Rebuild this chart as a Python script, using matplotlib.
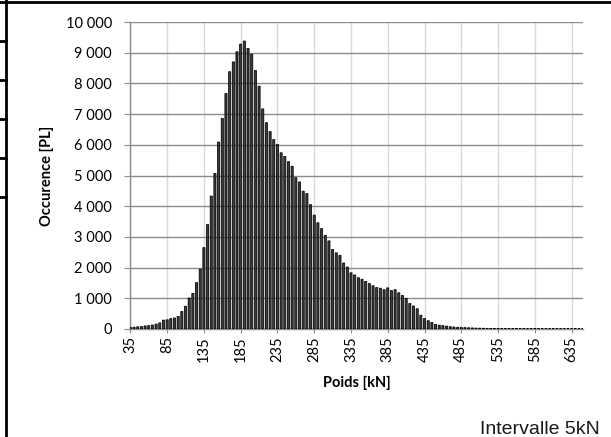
import matplotlib
matplotlib.use("Agg")
import matplotlib.pyplot as plt
from matplotlib.lines import Line2D
from matplotlib.ticker import FuncFormatter, MultipleLocator
import numpy as np

# classes de poids (kN), pas de 5 kN
poids = np.arange(35, 655, 5)

# occurences (une valeur par classe)
occurence = [
    50, 60, 70, 80, 100, 110, 130, 160, 200, 290,
    300, 340, 360, 410, 570, 740, 1010, 1160, 1510, 1950,
    2650, 3400, 4330, 5070, 6090, 6860, 7670, 8380, 8700, 9030,
    9280, 9380, 9140, 8950, 8420, 7910, 7170, 6720, 6430, 6170,
    6010, 5740, 5620, 5450, 5300, 4930, 4790, 4490, 4410, 4050,
    3710, 3460, 3270, 3050, 2870, 2590, 2480, 2400, 2150, 2020,
    1830, 1760, 1670, 1620, 1550, 1480, 1410, 1350, 1330, 1280,
    1340, 1250, 1280, 1180, 1090, 1000, 830, 750, 660, 450,
    340, 270, 215, 150, 125, 110, 95, 75, 65, 55,
    50, 45, 40, 35, 30, 28, 25, 22, 20, 18,
    16, 15, 14, 13, 12, 12, 11, 11, 10, 10,
    10, 10, 9, 9, 9, 9, 8, 8, 8, 8,
    8, 8, 8, 8,
]

xticks = list(range(35, 640, 50))

GRID_DARK = "#8c8c8c"
GRID_LIGHT = "#d9d9d9"
TXT = "#000000"

fig = plt.figure(figsize=(6.11, 4.37), dpi=100)
fig.set_facecolor("white")
ax = fig.add_axes([130 / 611, 1 - 329 / 437, 453 / 611, 307 / 437])

ax.bar(poids, occurence, width=2.9, color="#3c3c3c", edgecolor="black",
       linewidth=0.55, zorder=3, snap=False)

ax.set_xlim(34.5, 650.5)
ax.set_ylim(0, 10000)
ax.set_xticks(xticks)
ax.yaxis.set_major_locator(MultipleLocator(1000))
ax.yaxis.set_major_formatter(FuncFormatter(lambda v, p: f"{v:,.0f}".replace(",", " ")))

ax.set_axisbelow(True)
ax.grid(axis="y", color=GRID_DARK, linewidth=1.0)
ax.grid(axis="x", color=GRID_LIGHT, linewidth=1.0)

for s in ("top", "right"):
    ax.spines[s].set_visible(False)
for s in ("left", "bottom"):
    ax.spines[s].set_color(GRID_DARK)
    ax.spines[s].set_linewidth(1.0)
    ax.spines[s].set_zorder(2)

ax.tick_params(axis="y", direction="out", length=4, color=GRID_DARK, pad=9,
               labelsize=10.5, labelcolor=TXT)
ax.tick_params(axis="x", direction="out", length=3, color=GRID_DARK, pad=2,
               labelsize=10.5, labelcolor=TXT, labelrotation=90)
for lab in ax.get_xticklabels() + ax.get_yticklabels():
    lab.set_family("Lato")

ax.set_xlabel("Poids [kN]", family="Lato", fontweight="bold", fontsize=10.5)
ax.set_ylabel("Occurence [PL]", family="Lato", fontweight="bold", fontsize=10.5,
              va="center")
ax.xaxis.set_label_coords((357 - 130) / 453, -(376 - 329) / 307)
ax.yaxis.set_label_coords((47 - 130) / 453, 0.5)

fig.text(600 / 611, 1 - 434 / 437, "Intervalle 5kN", ha="right", va="baseline",
         fontsize=14, family="Liberation Sans", color="#1a1a1a")

# bordures du cadre (tableau du document)
W, H = 611.0, 437.0
def fline(x0, y0, x1, y1, lw=2):
    fig.add_artist(Line2D([x0 / W, x1 / W], [1 - y0 / H, 1 - y1 / H],
                          transform=fig.transFigure, color="black", linewidth=lw))

fline(0, 1.5, 611, 1.5)
fline(6, 0, 6, 437)
for yy in (41, 80, 119, 158, 197):
    fline(0, yy, 6, yy)

fig.savefig("out.png", dpi=100, facecolor="white")
